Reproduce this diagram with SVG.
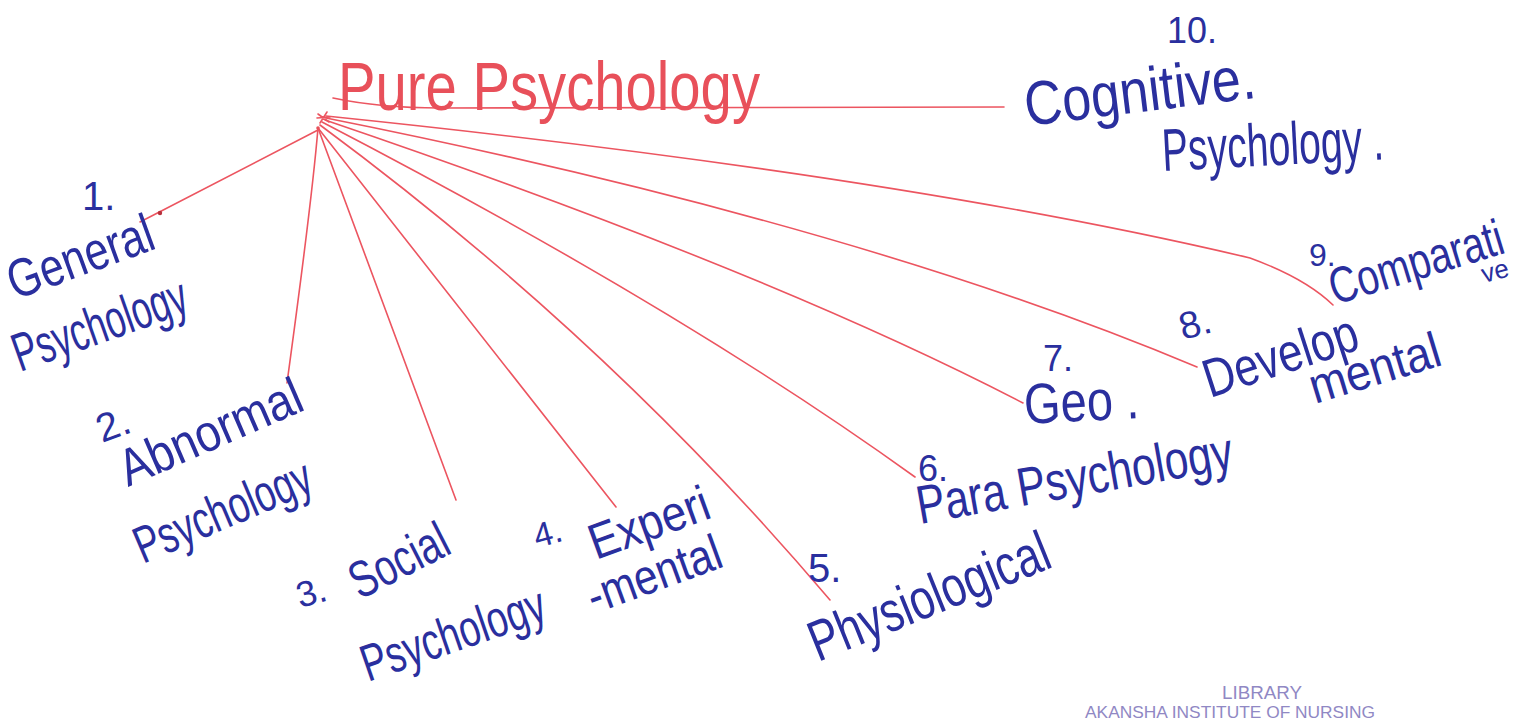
<svg xmlns="http://www.w3.org/2000/svg" width="1533" height="720" viewBox="0 0 1533 720">
<style>
.ink{font-family:"Liberation Sans","DejaVu Sans",sans-serif;fill:#2a2f9e;}
.red{font-family:"Liberation Sans","DejaVu Sans",sans-serif;fill:#e8505a;}
.ln{fill:none;stroke:#ec5560;stroke-width:1.6;stroke-linecap:round;}
.stamp{font-family:"Liberation Sans","DejaVu Sans",sans-serif;fill:#9088c4;}
</style>
<rect width="1533" height="720" fill="#ffffff"/>
<g id="connectors">
<path class="ln" d="M333 98 Q380 108 440 108 L1004 107"/>
<path class="ln" d="M326 116 Q900 175 1250 258 Q1305 278 1333 305"/>
<path class="ln" d="M326 118 Q857 224 1197 367"/>
<path class="ln" d="M325 120 Q769 271 1023 403"/>
<path class="ln" d="M322 122 Q682 309 915 477"/>
<path class="ln" d="M320 125 Q608 338 830 600"/>
<path class="ln" d="M318 128 L616 507"/>
<path class="ln" d="M318 128 L456 500"/>
<path class="ln" d="M318 128 Q312 200 287 383"/>
<path class="ln" d="M318 130 L140 222"/>
<circle cx="160" cy="213" r="2.2" fill="#b8303c"/>
<path class="ln" d="M318 114 L329 122 M320 123 L327 112 M317 118 L330 117" stroke-width="2"/>
<circle cx="318" cy="128" r="1.8" fill="#e8505a"/>
</g>
<g id="pure-psychology">
<text class="red" x="338" y="110" font-size="68" textLength="422" lengthAdjust="spacingAndGlyphs">Pure Psychology</text>
</g>
<g id="n1-general">
<text class="ink" x="82" y="210" font-size="40">1.</text>
<text class="ink" transform="translate(15 300) rotate(-20)" font-size="54" textLength="152" lengthAdjust="spacingAndGlyphs">General</text>
<text class="ink" transform="translate(20 372) rotate(-19.5)" font-size="54" textLength="182" lengthAdjust="spacingAndGlyphs">Psychology</text>
</g>
<g id="n2-abnormal">
<text class="ink" transform="translate(102 443) rotate(-20)" font-size="40">2.</text>
<text class="ink" transform="translate(128 487) rotate(-23.5)" font-size="52" textLength="195" lengthAdjust="spacingAndGlyphs">Abnormal</text>
<text class="ink" transform="translate(143 564) rotate(-23)" font-size="52" textLength="188" lengthAdjust="spacingAndGlyphs">Psychology</text>
</g>
<g id="n3-social">
<text class="ink" transform="translate(300 608) rotate(-15)" font-size="36">3.</text>
<text class="ink" transform="translate(360 600) rotate(-27)" font-size="52" textLength="105" lengthAdjust="spacingAndGlyphs">Social</text>
<text class="ink" transform="translate(368 682) rotate(-19)" font-size="52" textLength="192" lengthAdjust="spacingAndGlyphs">Psychology</text>
</g>
<g id="n4-experimental">
<text class="ink" transform="translate(537 548) rotate(-15)" font-size="34">4.</text>
<text class="ink" transform="translate(596 560) rotate(-20)" font-size="50" textLength="125" lengthAdjust="spacingAndGlyphs">Experi</text>
<text class="ink" transform="translate(594 614) rotate(-20)" font-size="50" textLength="140" lengthAdjust="spacingAndGlyphs">-mental</text>
</g>
<g id="n5-physiological">
<text class="ink" x="808" y="582" font-size="40">5.</text>
<text class="ink" transform="translate(818 662) rotate(-22)" font-size="57" textLength="255" lengthAdjust="spacingAndGlyphs">Physiological</text>
</g>
<g id="n6-para">
<text class="ink" x="918" y="481" font-size="36">6.</text>
<text class="ink" transform="translate(920 524) rotate(-10)" font-size="54" textLength="320" lengthAdjust="spacingAndGlyphs">Para Psychology</text>
</g>
<g id="n7-geo">
<text class="ink" x="1043" y="371" font-size="36">7.</text>
<text class="ink" transform="translate(1025 424) rotate(-3)" font-size="57" textLength="115" lengthAdjust="spacingAndGlyphs">Geo .</text>
</g>
<g id="n8-developmental">
<text class="ink" transform="translate(1183 340) rotate(-15)" font-size="38">8.</text>
<text class="ink" transform="translate(1210 398) rotate(-18)" font-size="54" textLength="160" lengthAdjust="spacingAndGlyphs">Develop</text>
<text class="ink" transform="translate(1315 404) rotate(-17)" font-size="50" textLength="135" lengthAdjust="spacingAndGlyphs">mental</text>
</g>
<g id="n9-comparative">
<text class="ink" x="1309" y="266" font-size="32">9.</text>
<text class="ink" transform="translate(1335 305) rotate(-17) scale(1 1.3)" font-size="39">Comparati</text>
<text class="ink" transform="translate(1484 283) rotate(-15)" font-size="26">ve</text>
</g>
<g id="n10-cognitive">
<text class="ink" x="1167" y="43" font-size="36" textLength="50" lengthAdjust="spacingAndGlyphs">10.</text>
<text class="ink" transform="translate(1027 126) rotate(-7)" font-size="62" textLength="232" lengthAdjust="spacingAndGlyphs">Cognitive.</text>
<text class="ink" transform="translate(1163 171) rotate(-3)" font-size="60" textLength="222" lengthAdjust="spacingAndGlyphs">Psychology .</text>
</g>
<g id="stamp">
<text class="stamp" x="1262" y="699" font-size="19" text-anchor="middle" textLength="80" lengthAdjust="spacingAndGlyphs">LIBRARY</text>
<text class="stamp" x="1085" y="718" font-size="17" textLength="290" lengthAdjust="spacingAndGlyphs">AKANSHA INSTITUTE OF NURSING</text>
</g>
</svg>
